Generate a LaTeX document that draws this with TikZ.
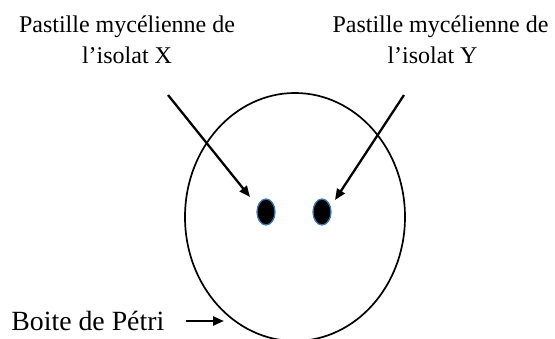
\documentclass[tikz,border=0pt]{standalone}
\usepackage{fontspec}
\setmainfont{Liberation Serif}
\usetikzlibrary{arrows.meta,shapes.geometric}
\definecolor{rimblue}{HTML}{3C78B4}
\begin{document}
\begin{tikzpicture}[x=1pt,y=-1pt,
  lbl/.style={inner sep=0pt, align=center, font=\fontsize{24}{31}\selectfont},
  bigtext/.style={inner sep=0pt, font=\fontsize{27.8}{33}\selectfont},
  pointer/.style={line width=2.3pt, -{Triangle[length=11pt,width=9pt]}},
  disc/.style={ellipse, draw=rimblue, fill=black, line width=1.3pt, inner sep=0pt, minimum width=18pt, minimum height=26pt}]
\useasboundingbox (0,0) rectangle (555,339);
% Petri dish
\draw[line width=1.7pt] (295,217) ellipse [x radius=110, y radius=124];
% mycelial discs
\node[disc] (dotx) at (266,212) {};
\node[disc] (doty) at (322,212) {};
\coordinate (dx) at (250,197);
\coordinate (dy) at (335,200);
% labels
\node[lbl, anchor=north] (lx) at (127,15.5) {Pastille mycélienne de\\l’isolat X};
\node[lbl, anchor=north] (ly) at (440.5,15.5) {Pastille mycélienne de\\l’isolat Y\makebox[16pt]{}};
\node[bigtext, anchor=base west] (petri) at (11.2,331) {Boite de Pétri};
% arrows
\coordinate (sx) at (168,95);
\coordinate (sy) at (404,95);
\draw[pointer] (sx) -- (dx);
\draw[pointer] (sy) -- (dy);
\coordinate (ps) at (186,321);
\coordinate (pe) at (224,321);
\draw[pointer] (ps) -- (pe);
\end{tikzpicture}
\end{document}
